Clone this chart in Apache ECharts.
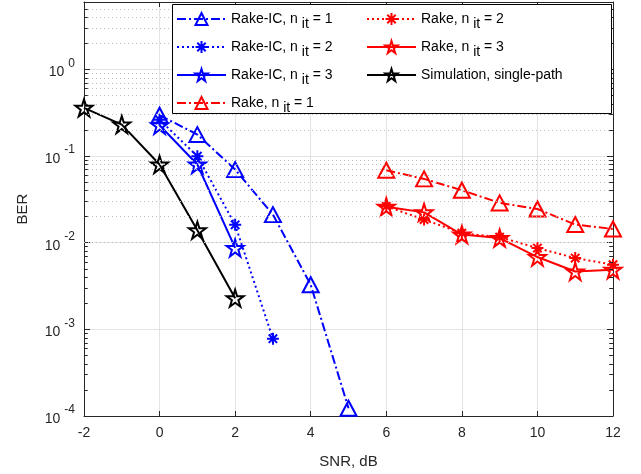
<!DOCTYPE html>
<html>
<head>
<meta charset="utf-8">
<script src="https://cdn.jsdelivr.net/npm/echarts@6/dist/echarts.min.js"></script>
<style>
html,body{margin:0;padding:0;background:#fff;}
#chart{width:641px;height:474px;}
</style>
</head>
<body>
<div id="chart"></div>
<script>
// ---- data ----
const snrIC = [0, 1, 2, 3, 4, 5];
const rakeIC1 = [0.296, 0.177, 0.0698, 0.0211, 0.00327, 0.000123];
const snrIC2 = [0, 1, 2, 3];
const rakeIC2 = [0.262, 0.0995, 0.0161, 0.00078];
const snrIC3 = [0, 1, 2];
const rakeIC3 = [0.227, 0.080, 0.0087];
const snrRake = [6, 7, 8, 9, 10, 11, 12];
const rake1 = [0.0686, 0.0545, 0.0403, 0.0288, 0.0245, 0.0162, 0.0144];
const rake2 = [0.0263, 0.0185, 0.0129, 0.0116, 0.00868, 0.00665, 0.00557];
const rake3 = [0.0260, 0.0224, 0.0124, 0.0113, 0.00683, 0.00466, 0.00487];
const snrSim = [-2, -1, 0, 1, 2];
const sim = [0.36, 0.231, 0.0798, 0.0139, 0.00229];

const seriesNames = ['Rake-IC, n_it = 1', 'Rake-IC, n_it = 2', 'Rake-IC, n_it = 3', 'Rake, n_it = 1',
                     'Rake, n_it = 2', 'Rake, n_it = 3', 'Simulation, single-path'];
const xTicks = [-2, 0, 2, 4, 6, 8, 10, 12];
const yMin = 1e-4, yMax = 6;

// ---- helpers ----
function zip(xs, ys) { return xs.map((x, i) => [x, ys[i]]); }
function starPath() {
  let d = '';
  for (let i = 0; i < 10; i++) {
    const r = i % 2 === 0 ? 1 : 0.382;
    const a = -Math.PI / 2 + i * Math.PI / 5;
    d += (i === 0 ? 'M' : 'L') + (r * Math.cos(a)).toFixed(4) + ',' + (r * Math.sin(a)).toFixed(4);
  }
  return 'path://' + d + 'Z';
}
const STAR = starPath();
const AST = 'path://M0,-1L0,1M-1,0L1,0M-0.7,-0.7L0.7,0.7M-0.7,0.7L0.7,-0.7';
const BLUE = '#0000ff', RED = '#ff0000', BLACK = '#000000';
const DASHDOT = [9, 3, 2, 3], DOT = [2, 3];

function mk(name, data, color, dash, symbol, size) {
  return {
    name: name, type: 'line', data: data,
    symbol: symbol, symbolSize: size,
    lineStyle: { color: color, width: 2, type: dash },
    itemStyle: { color: 'rgba(255,255,255,0)', borderColor: color, borderWidth: 2 },
    emphasis: { disabled: true },
    z: 3
  };
}

// minor grid values
const minorVals = [];
for (let e = -4; e <= 0; e++) {
  for (let k = 2; k <= 9; k++) {
    const v = k * Math.pow(10, e);
    if (v < yMax * 0.999) minorVals.push(v);
  }
}
const minorGrid = minorVals.map(v => ({ yAxis: v }));
const minorTicks = [];
minorVals.forEach(v => {
  minorTicks.push([{ coord: [-2, v] }, { coord: [-1.9, v] }]);
  minorTicks.push([{ coord: [12, v] }, { coord: [11.9, v] }]);
});

function legendFmt(name) {
  const m = name.match(/^(.*n)_it( = \d)$/);
  if (m) return '{a|' + m[1] + ' }{s|it}{a|' + m[2] + '}';
  return '{a|' + name + '}';
}
const legendRich = {
  a: { fontSize: 14, color: '#000', fontFamily: 'Liberation Sans' },
  s: { fontSize: 14, color: '#000', fontFamily: 'Liberation Sans', padding: [10, 0, 0, 0] }
};

const axisColor = '#262626';
const font = 'Liberation Sans';

const chart = echarts.init(document.getElementById('chart'), null, { renderer: 'canvas' });
chart.setOption({
  animation: false,
  backgroundColor: '#fff',
  grid: { left: 84, right: 28, top: 2, bottom: 58, containLabel: false },
  xAxis: [{
    type: 'value', min: -2, max: 12, interval: 2, position: 'bottom',
    name: 'SNR, dB', nameLocation: 'middle', nameGap: 38,
    nameTextStyle: { fontSize: 15, color: axisColor, fontFamily: font },
    axisLine: { onZero: false, lineStyle: { color: axisColor, width: 1 } },
    axisTick: { inside: true, length: 5, lineStyle: { color: axisColor } },
    axisLabel: { fontSize: 14, color: axisColor, fontFamily: font, margin: 10,
      formatter: v => (xTicks.indexOf(v) >= 0 ? String(v) : '') },
    splitLine: { show: true, lineStyle: { color: '#e3e3e3', width: 1 } }
  }, {
    type: 'value', min: -2, max: 12, interval: 2, position: 'top',
    axisLine: { onZero: false, lineStyle: { color: axisColor, width: 1 } },
    axisTick: { inside: true, length: 5, lineStyle: { color: axisColor } },
    axisLabel: { show: false }, splitLine: { show: false }
  }],
  yAxis: [{
    type: 'log', logBase: 10, min: yMin, max: yMax, position: 'left',
    name: 'BER', nameLocation: 'middle', nameGap: 54, nameRotate: 90,
    nameTextStyle: { fontSize: 15, color: axisColor, fontFamily: font },
    axisLine: { onZero: false, lineStyle: { color: axisColor, width: 1 } },
    axisTick: { inside: true, length: 6, lineStyle: { color: axisColor } },
    axisLabel: {
      margin: 9, color: axisColor, fontFamily: font,
      formatter: function (v) {
        const l = Math.log10(v), e = Math.round(l);
        if (Math.abs(l - e) > 1e-6) return '';
        return '{b|10}{e|' + e + '}';
      },
      rich: {
        b: { fontSize: 14, color: axisColor, fontFamily: font, padding: [6, 0, 0, 0] },
        e: { fontSize: 12, color: axisColor, fontFamily: font, padding: [0, 0, 12, 4] }
      }
    },
    splitLine: { show: true, lineStyle: { color: '#e3e3e3', width: 1 } }
  }, {
    type: 'log', logBase: 10, min: yMin, max: yMax, position: 'right',
    axisLine: { onZero: false, lineStyle: { color: axisColor, width: 1 } },
    axisTick: { inside: true, length: 6, lineStyle: { color: axisColor } },
    axisLabel: { show: false }, splitLine: { show: false }
  }],
  graphic: [{
    type: 'rect', left: 172, top: 4, z: 10,
    shape: { width: 439, height: 109 },
    style: { fill: '#fff', stroke: '#000', lineWidth: 1 }
  }],
  legend: [{
    data: seriesNames.slice(0, 4), orient: 'vertical', left: 176, top: 12, z: 20, padding: 0,
    itemWidth: 49, itemHeight: 15, itemGap: 9,
    formatter: legendFmt, textStyle: { rich: legendRich }
  }, {
    data: seriesNames.slice(4), orient: 'vertical', left: 366, top: 12, z: 20, padding: 0,
    itemWidth: 49, itemHeight: 15, itemGap: 9,
    formatter: legendFmt, textStyle: { rich: legendRich }
  }],
  series: [
    {
      name: 'grid-minor', type: 'line', data: [], silent: true, z: 1,
      markLine: {
        silent: true, symbol: 'none', label: { show: false }, animation: false,
        lineStyle: { color: '#bdbdbd', width: 1, type: [1, 3] },
        emphasis: { disabled: true },
        data: minorGrid
      }
    },
    {
      name: 'tick-minor', type: 'line', data: [], silent: true, z: 1,
      markLine: {
        silent: true, symbol: 'none', label: { show: false }, animation: false,
        lineStyle: { color: axisColor, width: 1, type: 'solid' },
        emphasis: { disabled: true },
        data: minorTicks
      }
    },
    mk(seriesNames[0], zip(snrIC, rakeIC1), BLUE, DASHDOT, 'triangle', [16, 15]),
    mk(seriesNames[1], zip(snrIC2, rakeIC2), BLUE, DOT, AST, 12),
    mk(seriesNames[2], zip(snrIC3, rakeIC3), BLUE, 'solid', STAR, 17),
    mk(seriesNames[3], zip(snrRake, rake1), RED, DASHDOT, 'triangle', [16, 15]),
    mk(seriesNames[4], zip(snrRake, rake2), RED, DOT, AST, 12),
    mk(seriesNames[5], zip(snrRake, rake3), RED, 'solid', STAR, 17),
    mk(seriesNames[6], zip(snrSim, sim), BLACK, 'solid', STAR, 17)
  ]
});
</script>
</body>
</html>
